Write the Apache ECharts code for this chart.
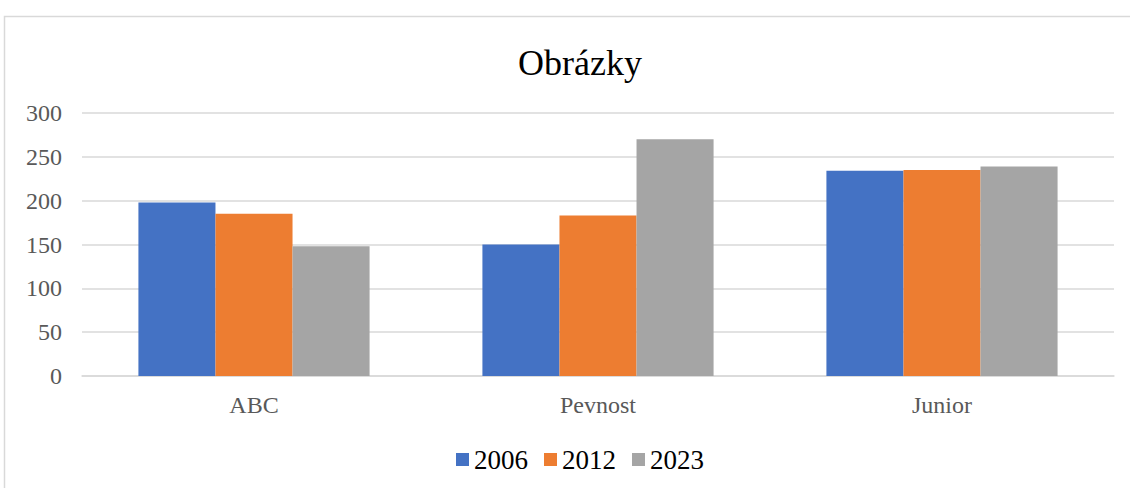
<!DOCTYPE html>
<html>
<head>
<meta charset="utf-8">
<script src="https://cdn.jsdelivr.net/npm/echarts@6/dist/echarts.min.js"></script>
<style>
  html, body { margin: 0; padding: 0; background: #fff; }
  #chart { width: 1130px; height: 488px; }
</style>
</head>
<body>
<div id="chart"></div>
<script>
// ===== 数据 =====
const categories = ['ABC', 'Pevnost', 'Junior'];
const seriesNames = ['2006', '2012', '2023'];
const values2006 = [198, 150, 234];
const values2012 = [185, 183, 235];
const values2023 = [148, 270, 239];
const yTicks = { min: 0, max: 300, interval: 50 };

const colors = ['#4472C4', '#ED7D31', '#A5A5A5'];
const font = 'Liberation Serif';

const chart = echarts.init(document.getElementById('chart'), null, { renderer: 'svg' });

chart.setOption({
  animation: false,
  color: colors,
  textStyle: { fontFamily: font },
  title: {
    text: 'Obrázky',
    left: 513,
    top: 40,
    textStyle: { fontFamily: font, fontSize: 36, fontWeight: 'normal', color: '#000' }
  },
  graphic: [{
    type: 'rect',
    shape: { x: 4.5, y: 16.5, width: 1140, height: 500 },
    style: { fill: 'none', stroke: '#D9D9D9', lineWidth: 1.5 },
    silent: true
  }],
  legend: {
    bottom: 10,
    left: 451,
    itemWidth: 13,
    itemHeight: 13,
    itemGap: 16,
    icon: 'rect',
    textStyle: { fontFamily: font, fontSize: 27, color: '#000' },
    data: seriesNames
  },
  grid: { left: 82, right: 16, top: 113, bottom: 112 },
  xAxis: {
    type: 'category',
    data: categories,
    axisLine: { lineStyle: { color: '#D9D9D9', width: 1.5 } },
    axisTick: { show: false },
    axisLabel: { fontFamily: font, fontSize: 24, color: '#595959', margin: 17 }
  },
  yAxis: {
    type: 'value',
    min: yTicks.min,
    max: yTicks.max,
    interval: yTicks.interval,
    axisLine: { show: false },
    axisTick: { show: false },
    splitLine: { lineStyle: { color: '#D9D9D9', width: 1.5 } },
    axisLabel: { fontFamily: font, fontSize: 24, color: '#595959', margin: 20 }
  },
  series: [
    { name: seriesNames[0], type: 'bar', data: values2006, barWidth: '22.4%', barGap: '0%', barCategoryGap: '33%' },
    { name: seriesNames[1], type: 'bar', data: values2012, barWidth: '22.4%', barGap: '0%' },
    { name: seriesNames[2], type: 'bar', data: values2023, barWidth: '22.4%', barGap: '0%' }
  ]
});
</script>
</body>
</html>
